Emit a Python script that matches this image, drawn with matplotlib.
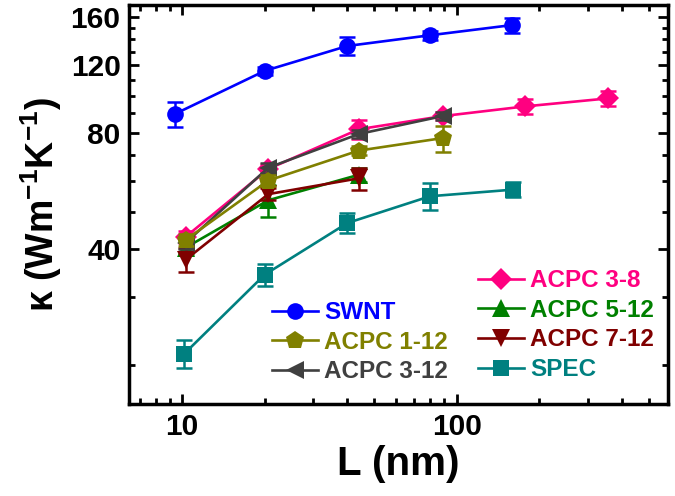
import matplotlib
matplotlib.use('Agg')
import matplotlib.pyplot as plt
from matplotlib.ticker import FixedLocator, NullFormatter

plt.rcParams['font.family'] = ['Liberation Sans', 'DejaVu Sans']
plt.rcParams['font.weight'] = 'bold'
plt.rcParams['mathtext.fontset'] = 'custom'
plt.rcParams['mathtext.rm'] = 'Liberation Sans:bold'
plt.rcParams['mathtext.it'] = 'Liberation Sans:bold'
plt.rcParams['mathtext.bf'] = 'Liberation Sans:bold'

# 数据
swnt_x = [9.4, 20, 40, 80, 159]
swnt_y = [89.6, 116, 134.6, 143.5, 152.5]
swnt_err = [6.7, 3, 7, 4, 7]

acpc38_x = [10.3, 20.6, 44, 89, 178, 357]
acpc38_y = [43, 64.5, 81.8, 88.5, 93.8, 98.4]
acpc38_err = [1.5, 2, 4.5, 2, 4, 4.5]

acpc512_x = [10.3, 20.6, 44]
acpc512_y = [40.3, 53.5, 62.3]
acpc512_err = [1.5, 5, 2.5]

acpc712_x = [10.3, 20.6, 44]
acpc712_y = [37.5, 55.5, 61]
acpc712_err = [2.7, 2, 4]

acpc312_x = [10.3, 20.6, 44, 89]
acpc312_y = [41.5, 65, 79.5, 88.5]
acpc312_err = [1.5, 2, 2, 2]

acpc112_x = [10.3, 20.6, 44, 89]
acpc112_y = [42.2, 60.2, 72, 77.6]
acpc112_err = [1.5, 2, 2, 6]

spec_x = [10.2, 20, 40, 80, 160]
spec_y = [21.4, 34.3, 46.7, 54.8, 57]
spec_err = [1.8, 2.2, 2.8, 4.4, 2.5]

fig = plt.figure(figsize=(6.75, 4.96), dpi=100)
ax = fig.add_axes([0.191, 0.185, 0.799, 0.805])

series = [
    ('SWNT', swnt_x, swnt_y, swnt_err, '#0000FF', 'o', 12),
    ('ACPC 3-8', acpc38_x, acpc38_y, acpc38_err, '#FF0080', 'D', 11),
    ('ACPC 5-12', acpc512_x, acpc512_y, acpc512_err, '#008000', '^', 12.5),
    ('ACPC 7-12', acpc712_x, acpc712_y, acpc712_err, '#800000', 'v', 12.5),
    ('ACPC 3-12', acpc312_x, acpc312_y, acpc312_err, '#404040', '<', 12.5),
    ('ACPC 1-12', acpc112_x, acpc112_y, acpc112_err, '#808000', 'p', 13.5),
    ('SPEC', spec_x, spec_y, spec_err, '#008080', 's', 11),
]

handles = {}
for i, (name, x, y, e, c, m, ms) in enumerate(series):
    ax.errorbar(x, y, yerr=e, fmt='none', ecolor=c, elinewidth=1.8,
                capsize=6, capthick=1.8, zorder=2 + i)
    h, = ax.plot(x, y, color=c, marker=m, markersize=ms, linewidth=1.9,
                 markeredgewidth=0, label=name, zorder=2 + i)
    handles[name] = h

ax.set_xscale('log')
ax.set_yscale('log')
ax.set_xlim(6.4, 590)
ax.set_ylim(15.8, 172)

ax.yaxis.set_major_locator(FixedLocator([40, 80, 120, 160]))
ax.yaxis.set_minor_locator(FixedLocator([20, 30, 50, 60, 70, 90, 100, 110, 130, 140, 150]))
ax.yaxis.set_major_formatter(plt.FuncFormatter(lambda v, p: '%d' % v))
ax.yaxis.set_minor_formatter(NullFormatter())
ax.xaxis.set_major_formatter(plt.FuncFormatter(lambda v, p: '%d' % v))

ax.tick_params(which='both', direction='in', top=True, right=True, width=2)
ax.tick_params(which='major', length=7, labelsize=21.5, pad=6)
ax.tick_params(which='minor', length=4)
for s in ax.spines.values():
    s.set_linewidth(2.5)

ax.set_xlabel('L (nm)', fontsize=29, fontweight='bold', labelpad=3)
ax.set_ylabel('\u03ba (Wm$^{-1}$K$^{-1}$)', fontsize=27, fontweight='bold', labelpad=5)

# 图例：两列
names1 = ['SWNT', 'ACPC 1-12', 'ACPC 3-12']
leg1 = ax.legend([handles[n] for n in names1], names1,
                 loc='upper left', bbox_to_anchor=(0.403, 0.393),
                 bbox_transform=fig.transFigure, frameon=False,
                 fontsize=17.5, handlelength=1.9, handletextpad=0.25,
                 labelspacing=0.27, borderpad=0, borderaxespad=0)
for t, n in zip(leg1.get_texts(), names1):
    t.set_color(handles[n].get_color())
ax.add_artist(leg1)

names2 = ['ACPC 3-8', 'ACPC 5-12', 'ACPC 7-12', 'SPEC']
leg2 = ax.legend([handles[n] for n in names2], names2,
                 loc='upper left', bbox_to_anchor=(0.708, 0.457),
                 bbox_transform=fig.transFigure, frameon=False,
                 fontsize=17.5, handlelength=1.9, handletextpad=0.25,
                 labelspacing=0.27, borderpad=0, borderaxespad=0)
for t, n in zip(leg2.get_texts(), names2):
    t.set_color(handles[n].get_color())

plt.savefig('out.png', dpi=100)
